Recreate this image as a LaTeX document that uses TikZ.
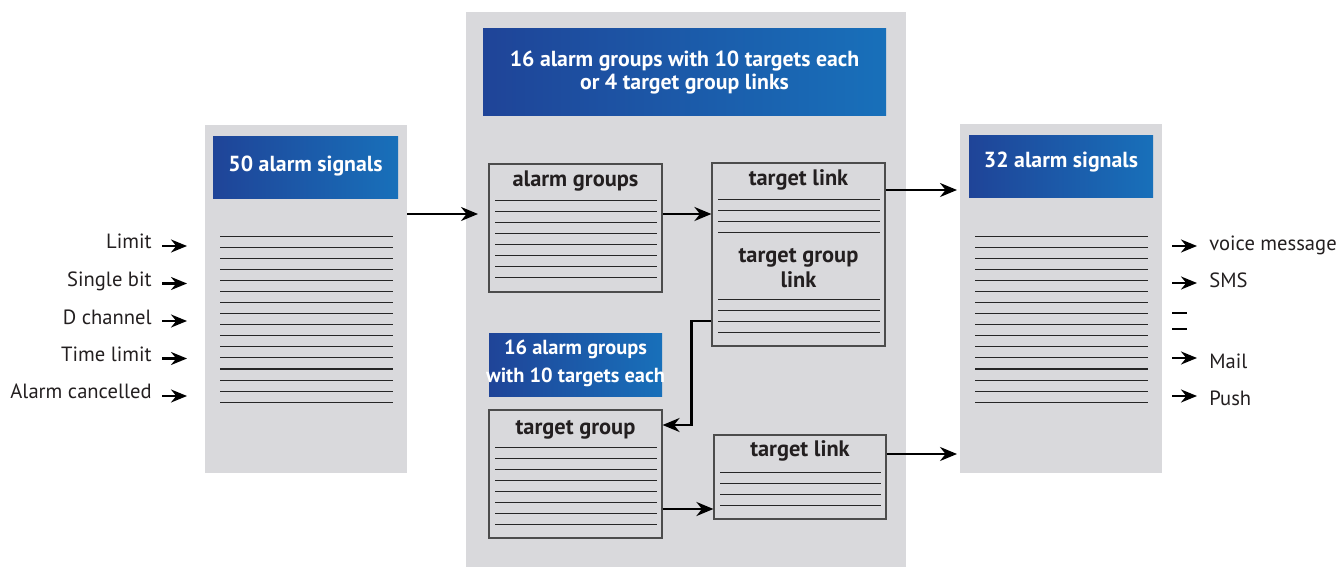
\documentclass[tikz,border=0pt]{standalone}
\usepackage{fontspec}
\setmainfont{PT Sans}
\usetikzlibrary{arrows.meta, positioning}
\definecolor{panelgray}{RGB}{217,217,220}
\definecolor{hdleft}{RGB}{31,68,152}
\definecolor{hdright}{RGB}{24,112,186}
\definecolor{txtgray}{RGB}{35,31,32}
\tikzstyle{panel} = [rectangle, fill=panelgray, draw=none, inner sep=0pt]
\tikzstyle{header} = [rectangle, left color=hdleft, right color=hdright, draw=none, inner sep=0pt]
\tikzstyle{hdtext} = [text=white, font=\bfseries\fontsize{10.9}{11.7}\selectfont, align=center, inner sep=0pt]
\tikzstyle{listbox} = [rectangle, draw=black!70, line width=0.6pt, inner sep=0pt]
\tikzstyle{boxtitle} = [text=txtgray, font=\bfseries\fontsize{11.2}{12.5}\selectfont, align=center, inner sep=0pt]
\tikzstyle{signal} = [text=txtgray, font=\fontsize{10.3}{12}\selectfont, inner sep=0pt]
\tikzstyle{row} = [line width=0.5pt, black!85]
\tikzstyle{arr} = [-{Stealth[length=8.5pt, width=7pt]}, line width=1.2pt]
\tikzstyle{sarr} = [-{Stealth[length=8pt, width=6.5pt]}, line width=1.2pt]

\begin{document}
\begin{tikzpicture}[x=0.5pt, y=-0.5pt]
\useasboundingbox (0,0) rectangle (1341,567);

% panels
\node (lp) [panel, minimum width=101pt, minimum height=174pt] at (306,299) {};
\node (mp) [panel, minimum width=220pt, minimum height=277.5pt] at (686,289.5) {};
\node (rp) [panel, minimum width=101pt, minimum height=174.5pt] at (1061,298.5) {};

% headers
\node (lh) [header, minimum width=92.5pt, minimum height=31pt] at (305.5,168) {};
\node (mh) [header, minimum width=201.5pt, minimum height=43.5pt] at (684.5,72.5) {};
\node (sh) [header, minimum width=86.5pt, minimum height=31pt] at (575.5,365) {};
\node (rh) [header, minimum width=92pt, minimum height=31pt] at (1061,167) {};
\node (lht) [hdtext, anchor=base] at (305.5,171.5) {50 alarm signals};
\node (mht) [hdtext, anchor=base] at (684.5,90) {16 alarm groups with 10 targets each\\or 4 target group links};
\node (sht) [hdtext, anchor=base, font=\bfseries\fontsize{10.2}{13.8}\selectfont] at (575.5,382.5) {16 alarm groups\\with 10 targets each};
\node (rht) [hdtext, anchor=base] at (1061,168) {32 alarm signals};

% list boxes
\node (ag) [listbox, minimum width=86.5pt, minimum height=64pt] at (575.5,228) {};
\node (tl1) [listbox, minimum width=86.5pt, minimum height=91.5pt] at (798.5,254.5) {};
\node (tg) [listbox, minimum width=86.5pt, minimum height=64pt] at (575.5,474) {};
\node (tl2) [listbox, minimum width=86pt, minimum height=42pt] at (800,477) {};

% rows
\foreach \y in {0,...,15} {
  \draw [row] (220,237+11*\y) -- (393,237+11*\y);
  \draw [row] (975,237+11*\y) -- (1148,237+11*\y);
}
\foreach \y in {0,...,7} {
  \draw [row] (495,201+11*\y) -- (657,201+11*\y);
  \draw [row] (495,447+11*\y) -- (657,447+11*\y);
}
\foreach \y in {0,...,3} {
  \draw [row] (718,200+11*\y) -- (880,200+11*\y);
  \draw [row] (718,300+11*\y) -- (880,300+11*\y);
  \draw [row] (720,472+11*\y) -- (881,472+11*\y);
}

% titles
\node (agt) [boxtitle, anchor=base] at (575.5,187) {alarm groups};
\node (tl1t) [boxtitle, anchor=base] at (798.5,186) {target link};
\node (tglt) [boxtitle, anchor=base] at (798.5,287) {target group\\link};
\node (tgt) [boxtitle, anchor=base] at (575.5,434) {target group};
\node (tl2t) [boxtitle, anchor=base] at (800,457) {target link};

% connectors
\coordinate (agin) at (478,214);
\draw [arr] (lp.east |- agin) -- (agin);
\draw [arr] (ag.east |- agin) -- (tl1.west |- agin);
\coordinate (rpin1) at (957,190);
\draw [arr] (tl1.east |- rpin1) -- (rpin1);
\coordinate (elb) at (tl1.west |- 0,321);
\coordinate (tgin) at (tg.east |- 0,425);
\draw [arr] (elb) -- ++(-20,0) |- (tgin);
\coordinate (tgout) at (tg.east |- 0,509);
\draw [arr] (tgout) -- (tl2.west |- tgout);
\coordinate (rpin2) at (957,454);
\draw [arr] (tl2.east |- rpin2) -- (rpin2);

% inputs
\foreach \lbl [count=\i] in {Limit, Single bit, D channel, Time limit, Alarm cancelled} {
  \pgfmathsetmacro{\ya}{208.5+37.5*\i}
  \node (in\i) [signal, anchor=base east] at (152,\ya+3) {\lbl};
  \coordinate (ia\i) at (162,\ya);
  \coordinate (ib\i) at (187,\ya);
  \draw [sarr] (ia\i) -- (ib\i);
}

% outputs
\foreach \lbl/\ya/\yb [count=\i] in {voice message/246/251, SMS/283/288, Mail/358/368, Push/396/406} {
  \node (out\i) [signal, anchor=base west] at (1209,\yb) {\lbl};
  \coordinate (oa\i) at (1172,\ya);
  \coordinate (ob\i) at (1197,\ya);
  \draw [sarr] (oa\i) -- (ob\i);
}
\draw [line width=1.3pt] (1172,313) -- (1187,313);
\draw [line width=1.3pt] (1172,329) -- (1187,329);
\end{tikzpicture}
\end{document}
